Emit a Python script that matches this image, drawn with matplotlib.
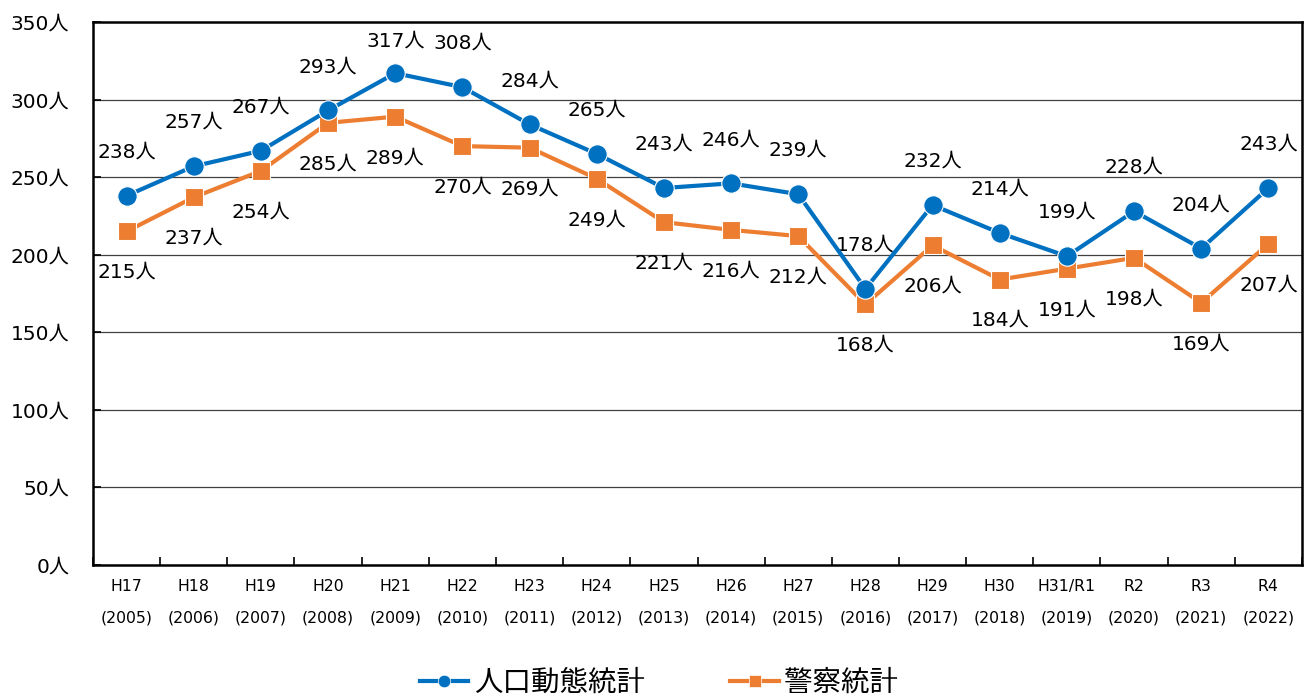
import numpy as np
import matplotlib.pyplot as plt
from matplotlib.lines import Line2D

plt.rcParams['font.family'] = ['DejaVu Sans', 'Noto Sans CJK JP']

eras = ['H17', 'H18', 'H19', 'H20', 'H21', 'H22', 'H23', 'H24', 'H25',
        'H26', 'H27', 'H28', 'H29', 'H30', 'H31/R1', 'R2', 'R3', 'R4']
years = ['2005', '2006', '2007', '2008', '2009', '2010', '2011', '2012', '2013',
         '2014', '2015', '2016', '2017', '2018', '2019', '2020', '2021', '2022']
vital = [238, 257, 267, 293, 317, 308, 284, 265, 243, 246, 239, 178, 232, 214, 199, 228, 204, 243]
police = [215, 237, 254, 285, 289, 270, 269, 249, 221, 216, 212, 168, 206, 184, 191, 198, 169, 207]

blue = '#0070C0'
orange = '#ED7D31'

fig = plt.figure(figsize=(13.13, 6.95), dpi=100)
ax = fig.add_axes([93/1313, 130/695, 1209/1313, 543/695])

x = np.arange(len(eras))
ax.plot(x, vital, color=blue, lw=3, marker='o', ms=14, mec='white', mew=0.8, zorder=4)
ax.plot(x, police, color=orange, lw=3, marker='s', ms=13, mec='white', mew=0.8, zorder=3)

# labels above the blue line, below the orange one (the top one pulled down a bit)
for xi, v in zip(x, vital):
    dy = 23 if v == max(vital) else 31.5
    ax.annotate(f'{v}人', (xi, v), xytext=(0, dy), textcoords='offset points',
                ha='center', va='center', fontsize=14.5)
for xi, v in zip(x, police):
    ax.annotate(f'{v}人', (xi, v), xytext=(0, -29.5), textcoords='offset points',
                ha='center', va='center', fontsize=14.5)

ax.set_xlim(-0.5, len(eras) - 0.5)
ax.set_ylim(0, 350)
ax.set_yticks(range(0, 351, 50))
ax.set_yticklabels([f'{v}人' for v in range(0, 351, 50)], fontsize=14.5)
ax.set_xticks(x)
ax.set_xticklabels([f'{e}\n({y})' for e, y in zip(eras, years)], fontsize=11.3, linespacing=2.4)
ax.set_xticks(np.arange(-0.5, len(eras)), minor=True)
ax.tick_params(axis='x', which='major', length=0, pad=10)
ax.tick_params(axis='x', which='minor', direction='in', length=6, width=1.2)
ax.tick_params(axis='y', direction='in', length=6, width=1.2, pad=17)

for y in range(50, 350, 50):
    ax.axhline(y, color='#404040', lw=0.9, zorder=1)
for s in ax.spines.values():
    s.set_linewidth(1.8)
    s.set_color('black')

handles = [
    Line2D([], [], color=blue, lw=3, marker='o', ms=9, mec='white', mew=0.5),
    Line2D([], [], color=orange, lw=3, marker='s', ms=9, mec='white', mew=0.5),
]
fig.legend(handles, ['人口動態統計', '警察統計'], loc='center', bbox_to_anchor=(0.502, 0.018),
           ncol=2, frameon=False, fontsize=20.5, handlelength=1.7, handletextpad=0.2,
           columnspacing=3.0)

fig.savefig('out.png', dpi=100)
